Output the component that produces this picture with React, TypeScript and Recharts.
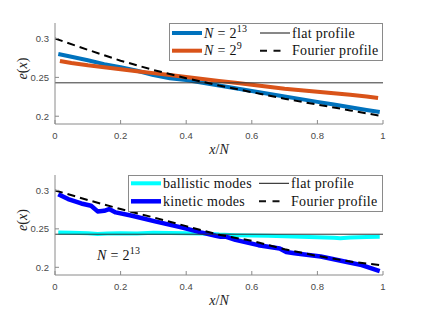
import React from "react";
import { ComposedChart, Line, XAxis, YAxis, Legend, ReferenceDot } from "recharts";

const X_TICKS = [0, 0.2, 0.4, 0.6, 0.8, 1];
const Y_TICKS = [0.2, 0.25, 0.3];
const Y_DOMAIN: [number, number] = [0.19, 0.32];

// top panel: N = 2^13
const bigX = [0.01, 0.05, 0.1, 0.15, 0.2, 0.25, 0.3, 0.35, 0.4, 0.45, 0.5, 0.55, 0.6, 0.65, 0.7, 0.75, 0.8, 0.85, 0.9, 0.95, 0.99];
const bigE = [0.28, 0.2765, 0.272, 0.267, 0.263, 0.2585, 0.253, 0.249, 0.2465, 0.243, 0.2395, 0.236, 0.2325, 0.229, 0.2255, 0.222, 0.2185, 0.215, 0.2115, 0.208, 0.2055];

// top panel: N = 2^9
const smallX = [0.015, 0.05, 0.1, 0.15, 0.2, 0.25, 0.3, 0.35, 0.4, 0.45, 0.5, 0.55, 0.6, 0.65, 0.7, 0.75, 0.8, 0.85, 0.9, 0.95, 0.985];
const smallE = [0.2712, 0.2685, 0.2655, 0.263, 0.2605, 0.258, 0.2555, 0.253, 0.2505, 0.248, 0.2455, 0.243, 0.2405, 0.238, 0.2355, 0.2335, 0.2315, 0.2295, 0.2275, 0.2255, 0.2235];

// Fourier profile (read separately in each panel)
const fourierX = [0, 0.1, 0.2, 0.3, 0.4, 0.5, 0.6, 0.7, 0.8, 0.9, 1];
const fourierTopE = [0.3, 0.2855, 0.2715, 0.2595, 0.249, 0.2395, 0.231, 0.2225, 0.215, 0.2075, 0.2];
const fourierBotE = [0.3, 0.2875, 0.2757, 0.2649, 0.2535, 0.2422, 0.2345, 0.2235, 0.2148, 0.2075, 0.2025];

// flat profile
const flatX = [0, 1];
const flatE = [0.243, 0.243];

// bottom panel: ballistic modes
const ballX = [0.01, 0.05, 0.1, 0.13, 0.16, 0.2, 0.25, 0.3, 0.35, 0.4, 0.45, 0.5, 0.55, 0.6, 0.65, 0.7, 0.75, 0.8, 0.85, 0.87, 0.9, 0.95, 0.99];
const ballE = [0.2452, 0.2448, 0.2442, 0.2432, 0.2438, 0.2442, 0.244, 0.2448, 0.2446, 0.2443, 0.2438, 0.2425, 0.2418, 0.2414, 0.241, 0.2405, 0.2398, 0.2392, 0.2384, 0.2379, 0.2388, 0.2394, 0.2396];

// bottom panel: kinetic modes
const kinX = [0.01, 0.04, 0.08, 0.11, 0.13, 0.15, 0.165, 0.185, 0.235, 0.305, 0.385, 0.445, 0.49, 0.505, 0.52, 0.55, 0.62, 0.685, 0.705, 0.73, 0.81, 0.89, 0.935, 0.965, 0.99];
const kinE = [0.295, 0.2887, 0.283, 0.28, 0.2727, 0.2735, 0.2757, 0.2714, 0.267, 0.2597, 0.2519, 0.2454, 0.241, 0.2398, 0.24, 0.2357, 0.2288, 0.2245, 0.22, 0.2184, 0.2141, 0.207, 0.2028, 0.1985, 0.195];

const pts = (xs: number[], ys: number[]) => xs.map((x, i) => ({ x, e: ys[i] }));

const C_BIG = "#0072BD";
const C_SMALL = "#D95319";
const C_BALL = "#00FFFF";
const C_KIN = "#0000FF";
const AXIS = "#8a8a8a";
const TICK_LEN = 4;
const X_GAP = 11.5;
const Y_GAP = 6;
const SERIF = "'Liberation Serif', 'Times New Roman', serif";
const TICK_FONT = { fontFamily: "'Liberation Sans', Arial, sans-serif", fontSize: 9.5, fill: "#4a4a4a" };

function BottomTick({ x, y, payload }: any) {
  const ay = y - X_GAP;
  return (
    <g>
      <line x1={x} x2={x} y1={ay} y2={ay - TICK_LEN} stroke={AXIS} />
      <text x={x} y={y} dy="0.35em" textAnchor="middle" {...TICK_FONT}>{payload.value}</text>
    </g>
  );
}

function TopTick({ x, y }: any) {
  return <line x1={x} x2={x} y1={y} y2={y + TICK_LEN} stroke={AXIS} />;
}

function LeftTick({ x, y, payload }: any) {
  const ax = x + Y_GAP;
  return (
    <g>
      <line x1={ax} x2={ax + TICK_LEN} y1={y} y2={y} stroke={AXIS} />
      <text x={x} y={y} dy="0.35em" textAnchor="end" {...TICK_FONT}>{payload.value}</text>
    </g>
  );
}

function RightTick({ x, y }: any) {
  return <line x1={x} x2={x - TICK_LEN} y1={y} y2={y} stroke={AXIS} />;
}

function XLabel({ viewBox }: any) {
  const cx = viewBox.x + viewBox.width / 2;
  return (
    <text x={cx} y={viewBox.y + 29.5} textAnchor="middle" fontFamily={SERIF} fontSize={14} fill="#222">
      <tspan fontStyle="italic">x</tspan>/<tspan fontStyle="italic">N</tspan>
    </text>
  );
}

function YLabel({ viewBox }: any) {
  const cx = 22;
  const cy = viewBox.y + viewBox.height / 2 - 5;
  return (
    <text x={cx} y={cy} transform={`rotate(-90 ${cx} ${cy})`} textAnchor="middle" dominantBaseline="central" fontFamily={SERIF} fontSize={14} fill="#222">
      <tspan fontStyle="italic">e</tspan>(<tspan fontStyle="italic">x</tspan>)
    </text>
  );
}

function PowN({ exp }: { exp: string }) {
  return (
    <>
      <tspan fontStyle="italic">N</tspan>
      <tspan> = 2</tspan>
      <tspan dy={-6} fontSize={10}>{exp}</tspan>
    </>
  );
}

type Entry = { color: string; width: number; dash?: string; label: React.ReactNode };

function LegendBox({ w, h, col2, rows, entries }: { w: number; h: number; col2: number; rows: number[]; entries: Entry[] }) {
  const cols = [3, col2];
  return (
    <svg width={w} height={h} style={{ display: "block" }}>
      <rect x={0.5} y={0.5} width={w - 1} height={h - 1} fill="#fff" stroke={AXIS} />
      {entries.map((en, i) => {
        const cx = cols[i % 2];
        const cy = rows[Math.floor(i / 2)];
        return (
          <g key={i}>
            <line x1={cx} x2={cx + 30} y1={cy} y2={cy} stroke={en.color} strokeWidth={en.width} strokeDasharray={en.dash} />
            <text x={cx + 32} y={cy} dy="0.33em" fontFamily={SERIF} fontSize={14} letterSpacing={0.3} fill="#111">
              {en.label}
            </text>
          </g>
        );
      })}
    </svg>
  );
}

const topEntries: Entry[] = [
  { color: C_BIG, width: 4, label: <PowN exp="13" /> },
  { color: "#111", width: 1, label: "flat profile" },
  { color: C_SMALL, width: 4, label: <PowN exp="9" /> },
  { color: "#111", width: 2, dash: "7 6.5 7 20", label: "Fourier profile" },
];

const botEntries: Entry[] = [
  { color: C_BALL, width: 4, label: "ballistic modes" },
  { color: "#111", width: 1, label: "flat profile" },
  { color: C_KIN, width: 4.5, label: "kinetic modes" },
  { color: "#111", width: 2, dash: "7 6.5 7 20", label: "Fourier profile" },
];

function Panel({ top, xh, children, legend }: { top: number; xh: number; children: React.ReactNode; legend: React.ReactNode }) {
  return (
    <ComposedChart width={424} height={159} margin={{ top, right: 41, bottom: 0, left: 0 }}>
      <XAxis
        dataKey="x"
        type="number"
        domain={[0, 1]}
        ticks={X_TICKS}
        height={xh}
        tickSize={0}
        tickMargin={X_GAP}
        tick={<BottomTick />}
        axisLine={{ stroke: AXIS }}
        label={<XLabel />}
        allowDataOverflow
      />
      <XAxis
        xAxisId="top"
        orientation="top"
        type="number"
        domain={[0, 1]}
        ticks={X_TICKS}
        height={0}
        tickSize={0}
        tickMargin={0}
        tick={<TopTick />}
        axisLine={{ stroke: AXIS }}
      />
      <YAxis
        type="number"
        domain={Y_DOMAIN}
        ticks={Y_TICKS}
        width={55}
        tickSize={0}
        tickMargin={Y_GAP}
        tick={<LeftTick />}
        axisLine={{ stroke: AXIS }}
        label={<YLabel />}
        allowDataOverflow
      />
      <YAxis
        yAxisId="r"
        orientation="right"
        type="number"
        domain={Y_DOMAIN}
        ticks={Y_TICKS}
        width={0}
        tickSize={0}
        tickMargin={0}
        tick={<RightTick />}
        axisLine={{ stroke: AXIS }}
      />
      {children}
      {legend}
    </ComposedChart>
  );
}

const lineProps = { dataKey: "e", type: "linear" as const, dot: false, activeDot: false, isAnimationActive: false, strokeLinejoin: "round" as const };

export default function App() {
  return (
    <div style={{ width: 424, height: 318, background: "#fff" }}>
      <style>{"body{margin:0}"}</style>
      <Panel
        top={23}
        xh={35}
        legend={
          <Legend
            layout="horizontal"
            verticalAlign="middle"
            align="center"
            wrapperStyle={{ left: 169, top: 23, width: 214, height: 38 }}
            content={() => <LegendBox w={214} h={38} col2={91} rows={[10, 27.7]} entries={topEntries} />}
          />
        }
      >
        <Line {...lineProps} data={pts(bigX, bigE)} stroke={C_BIG} strokeWidth={4} />
        <Line {...lineProps} data={pts(smallX, smallE)} stroke={C_SMALL} strokeWidth={4} />
        <Line {...lineProps} data={pts(flatX, flatE)} stroke="#333" strokeWidth={1} />
        <Line {...lineProps} data={pts(fourierX, fourierTopE)} stroke="#000" strokeWidth={2} strokeDasharray="8 5" />
      </Panel>
      <Panel
        top={16}
        xh={43}
        legend={
          <Legend
            layout="horizontal"
            verticalAlign="middle"
            align="center"
            wrapperStyle={{ left: 128, top: 16, width: 255, height: 37 }}
            content={() => <LegendBox w={255} h={37} col2={131} rows={[8.3, 26.3]} entries={botEntries} />}
          />
        }
      >
        <Line {...lineProps} data={pts(ballX, ballE)} stroke={C_BALL} strokeWidth={4} />
        <Line {...lineProps} data={pts(kinX, kinE)} stroke={C_KIN} strokeWidth={4.5} />
        <Line {...lineProps} data={pts(flatX, flatE)} stroke="#333" strokeWidth={1} />
        <Line {...lineProps} data={pts(fourierX, fourierBotE)} stroke="#000" strokeWidth={2} strokeDasharray="8 5" />
        <ReferenceDot
          x={0.128}
          y={0.2098}
          r={0}
          shape={(p: any) => (
            <text x={p.cx} y={p.cy} fontFamily={SERIF} fontSize={14} letterSpacing={0.3} fill="#111">
              <PowN exp="13" />
            </text>
          )}
        />
      </Panel>
    </div>
  );
}
